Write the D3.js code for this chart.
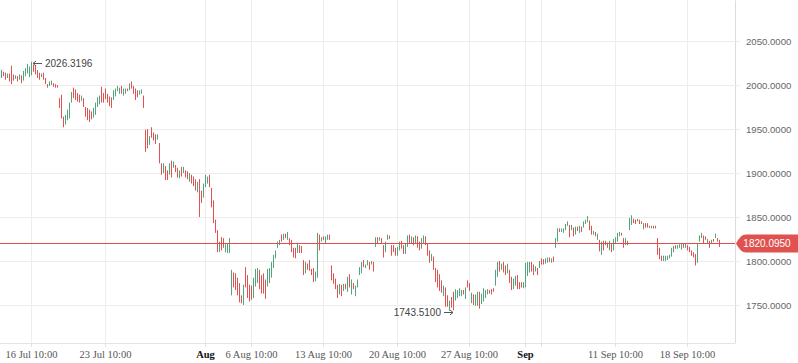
<!DOCTYPE html>
<html>
<head>
<meta charset="utf-8">
<script src="https://cdn.jsdelivr.net/npm/d3@7"></script>
<style>
  body { margin: 0; background: #fff; }
  svg { display: block; }
</style>
</head>
<body>
<script>
// OHLC bars, one per period
const opens = [
  2009,2014,2013,2009,2012,2021,2011,2008,2009,2007,
  2010,2006,2011,2014,2010,2012,2022,2021,2016,2013,
  2010,2013,2007,2000,2000,2001,2001,2000,1999,1984,
  1988,1963,1956,1961,1963,1981,1996,1994,1990,1988,
  1983,1984,1974,1973,1971,1969,1964,1967,1976,1979,
  1997,1990,1995,1989,1986,1985,1984,1988,1994,1991,
  1998,1989,1991,1995,1995,2003,1998,1995,1993,1990,
  1991,1987,1948,1949,1933,1951,1945,1943,1939,1933,
  1910,1901,1907,1902,1899,1913,1907,1908,1905,1895,
  1906,1901,1902,1901,1891,1897,1895,1892,1879,1892,
  1879,1873,1885,1889,1897,1882,1868,1846,1834,1811,
  1826,1825,1811,1810,1810,1762,1786,1785,1780,1774,
  1760,1751,1792,1783,1772,1771,1759,1772,1776,1789,
  1783,1785,1778,1772,1776,1782,1793,1804,1816,1819,
  1829,1825,1830,1825,1825,1823,1814,1814,1810,1817,
  1816,1800,1787,1796,1800,1790,1791,1778,1782,1829,
  1823,1827,1821,1825,1829,1794,1785,1779,1772,1763,
  1772,1767,1773,1766,1784,1763,1774,1761,1771,1785,
  1787,1800,1793,1796,1798,1797,1798,1817,1826,1824,
  1825,1817,1811,1825,1828,1817,1817,1814,1807,1813,
  1822,1817,1809,1817,1829,1821,1826,1821,1827,1821,
  1815,1821,1827,1819,1811,1801,1804,1791,1789,1784,
  1777,1761,1769,1760,1744.5,1758,1764,1756,1759,1761,
  1761,1766,1758,1777,1774,1753,1761,1750,1750,1764,
  1752,1755,1759,1763,1766,1767,1768,1773,1783,1799,
  1791,1798,1794,1787,1789,1781,1769,1773,1783,1775,
  1775,1770,1771,1784,1788,1798,1795,1789,1791,1793,
  1802,1801,1798,1799,1803,1799,1804,1816,1823,1836,
  1834,1833,1836,1841,1840,1836,1837,1831,1838,1833,
  1838,1839,1843,1845,1845,1839,1831,1832,1825,1823,
  1808,1822,1819,1820,1813,1819,1813,1821,1823,1829,
  1831,1825,1819,1822,1836,1842,1847,1846,1846,1846,
  1844,1837,1842,1842,1839,1838,1839,1839,1825,1814,
  1805,1801,1801,1802,1804,1806,1811,1817,1815,1816,
  1814,1819,1816,1817,1815,1811,1809,1807,1799,1823,
  1827,1828,1827,1821,1822,1821,1824,1827,1825,1823
];
const highs = [
  2017,2015,2014,2013,2013,2022,2012,2011,2010,2012,
  2011,2016,2019,2024,2021,2026.3196,2023,2022,2017,2014,
  2013,2014,2008,2001,2004,2005,2002,2001,2000,1985,
  1989,1964,1966,1972,1980,1992,1997,1995,1991,1989,
  1988,1985,1975,1974,1972,1970,1974,1980,1986,1988,
  1998,1991,1996,1990,1987,1986,1994,1996,1999,1997,
  1999,1996,1996,1996,2002,2004,1999,1996,1994,1994,
  1995,1988,1949,1950,1942,1952,1946,1944,1944,1934,
  1911,1911,1908,1903,1911,1914,1913,1909,1906,1903,
  1907,1907,1903,1902,1900,1898,1896,1893,1890,1893,
  1880,1888,1898,1896,1898,1883,1869,1847,1835,1822,
  1827,1826,1819,1820,1826,1790,1787,1786,1781,1775,
  1761,1773,1793,1784,1773,1772,1781,1791,1792,1790,
  1784,1786,1779,1791,1792,1799,1807,1812,1822,1824,
  1830,1831,1831,1833,1826,1824,1815,1815,1820,1818,
  1817,1801,1799,1797,1801,1791,1792,1788,1832,1830,
  1827,1828,1828,1830,1830,1795,1786,1780,1773,1774,
  1773,1774,1774,1782,1785,1779,1775,1772,1779,1793,
  1799,1801,1796,1801,1799,1800,1799,1827,1827,1827,
  1826,1818,1822,1830,1829,1818,1818,1815,1816,1822,
  1823,1818,1820,1829,1830,1828,1827,1829,1828,1822,
  1826,1829,1828,1820,1812,1808,1805,1792,1790,1785,
  1778,1772,1770,1761,1755,1759,1765,1768,1767,1769,
  1767,1767,1770,1778,1775,1764,1762,1762,1765,1765,
  1763,1769,1767,1768,1767,1768,1769,1790,1799,1800,
  1797,1799,1795,1797,1790,1782,1780,1783,1784,1776,
  1776,1776,1798,1799,1799,1799,1796,1794,1792,1800,
  1803,1802,1803,1804,1804,1803,1805,1826,1837,1837,
  1837,1837,1842,1845,1841,1841,1838,1839,1839,1840,
  1839,1845,1847,1851,1846,1840,1834,1833,1831,1824,
  1822,1823,1823,1821,1823,1820,1825,1827,1832,1833,
  1832,1826,1826,1823,1849,1852,1848,1847,1848,1847,
  1845,1843,1843,1843,1840,1840,1840,1840,1826,1815,
  1806,1806,1806,1806,1807,1815,1817,1818,1818,1819,
  1820,1820,1820,1818,1816,1812,1810,1808,1820,1829,
  1832,1829,1828,1825,1823,1824,1825,1831,1826,1824
];
const lows = [
  2008,2010,2006,2008,2004,2001,2005,2007,2004,2006,
  2002,2005,2010,2013,2009,2011,2015,2012,2008,2006,
  2009,2006,2001,1997,1999,2000,1998,1997,1997,1974,
  1962,1952,1955,1960,1962,1980,1985,1983,1981,1980,
  1982,1975,1964,1960,1958,1961,1963,1966,1975,1978,
  1980,1980,1984,1980,1976,1974,1983,1987,1993,1990,
  1990,1988,1990,1993,1994,1996,1990,1983,1986,1989,
  1990,1974,1924,1928,1932,1940,1937,1933,1938,1911,
  1898,1900,1892,1892,1898,1895,1906,1901,1895,1894,
  1896,1900,1895,1893,1890,1888,1885,1880,1878,1850,
  1866,1872,1884,1888,1884,1861,1843,1832,1810,1810,
  1812,1815,1810,1809,1809,1761,1770,1767,1761,1753,
  1752,1750,1770,1758,1754,1756,1758,1771,1775,1768,
  1763,1763,1757,1771,1775,1781,1792,1803,1815,1818,
  1822,1824,1826,1824,1818,1810,1804,1803,1809,1809,
  1809,1784,1786,1790,1789,1784,1776,1777,1781,1812,
  1822,1824,1820,1824,1824,1778,1774,1768,1758,1762,
  1760,1766,1768,1765,1770,1762,1768,1760,1770,1784,
  1786,1793,1792,1795,1790,1796,1788,1816,1820,1823,
  1820,1804,1810,1824,1825,1806,1810,1806,1806,1812,
  1814,1808,1808,1816,1820,1820,1818,1820,1815,1812,
  1814,1820,1818,1806,1798,1800,1790,1776,1770,1766,
  1764,1760,1748,1748,1743.51,1747,1744,1755,1758,1760,
  1760,1762,1757,1770,1766,1752,1750,1749,1749,1746,
  1751,1754,1758,1762,1763,1762,1765,1772,1782,1788,
  1790,1787,1784,1786,1775,1767,1768,1772,1768,1768,
  1770,1769,1770,1783,1787,1788,1784,1788,1784,1792,
  1796,1796,1797,1798,1799,1798,1799,1815,1822,1833,
  1833,1832,1835,1840,1827,1835,1828,1830,1834,1832,
  1833,1838,1842,1844,1835,1830,1830,1828,1824,1811,
  1807,1812,1818,1815,1812,1810,1812,1820,1822,1828,
  1829,1815,1818,1818,1835,1841,1843,1842,1845,1842,
  1842,1836,1838,1838,1838,1837,1837,1837,1807,1802,
  1800,1800,1800,1801,1803,1805,1810,1814,1814,1815,
  1813,1815,1815,1812,1810,1806,1804,1795,1798,1822,
  1826,1820,1824,1820,1815,1820,1822,1826,1822,1816
];
const closes = [
  2016,2011,2007,2012,2005,2002,2006,2010,2005,2011,
  2003,2015,2018,2023,2020,2025,2016,2013,2009,2007,
  2012,2007,2002,1998,2003,2004,1999,1998,1998,1975,
  1963,1953,1965,1971,1979,1991,1986,1984,1982,1981,
  1987,1976,1965,1961,1959,1962,1973,1979,1985,1987,
  1981,1981,1985,1981,1977,1975,1993,1995,1998,1996,
  1991,1995,1995,1994,2001,1997,1991,1984,1987,1993,
  1994,1975,1925,1929,1941,1941,1938,1934,1943,1912,
  1899,1910,1893,1893,1910,1896,1912,1902,1896,1902,
  1897,1906,1896,1894,1899,1889,1886,1881,1889,1851,
  1867,1887,1897,1895,1885,1862,1844,1833,1811,1821,
  1813,1816,1818,1819,1825,1789,1771,1768,1762,1754,
  1753,1772,1771,1759,1755,1757,1780,1790,1791,1769,
  1764,1764,1758,1790,1791,1798,1806,1811,1821,1823,
  1823,1830,1827,1832,1819,1811,1805,1804,1819,1810,
  1810,1785,1798,1791,1790,1785,1777,1787,1831,1813,
  1826,1825,1827,1829,1825,1779,1775,1769,1759,1773,
  1761,1773,1769,1781,1771,1778,1769,1771,1778,1792,
  1798,1794,1795,1800,1791,1799,1789,1826,1821,1826,
  1821,1805,1821,1829,1826,1807,1811,1807,1815,1821,
  1815,1809,1819,1828,1821,1827,1819,1828,1816,1813,
  1825,1828,1819,1807,1799,1807,1791,1777,1771,1767,
  1765,1771,1749,1749,1754,1748,1745,1767,1766,1768,
  1766,1763,1769,1771,1767,1763,1751,1761,1764,1747,
  1762,1768,1766,1767,1764,1763,1766,1789,1798,1789,
  1796,1788,1785,1796,1776,1768,1779,1782,1769,1769,
  1771,1775,1797,1798,1798,1789,1785,1793,1785,1799,
  1797,1797,1802,1803,1800,1802,1800,1825,1836,1834,
  1836,1836,1841,1844,1828,1840,1829,1838,1835,1839,
  1834,1844,1846,1850,1836,1831,1833,1829,1830,1812,
  1821,1813,1822,1816,1822,1811,1824,1826,1831,1832,
  1830,1816,1825,1819,1848,1851,1844,1843,1847,1843,
  1843,1842,1839,1839,1838.5,1839,1838,1838,1808,1803,
  1801,1805,1805,1805,1806,1814,1816,1815,1817,1818,
  1819,1816,1819,1813,1811,1807,1805,1796,1819,1828,
  1831,1821,1825,1824,1816,1823,1823,1830,1823,1820.095
];

// axis ticks
const priceTicks = [1750, 1800, 1850, 1900, 1950, 2000, 2050];
const timeTickBars = [15, 52, 102, 125, 161, 198, 234, 262, 270, 307, 343];
const timeTickLabels = ["16 Jul 10:00", "23 Jul 10:00", "Aug", "6 Aug 10:00", "13 Aug 10:00",
  "20 Aug 10:00", "27 Aug 10:00", "Sep", "", "11 Sep 10:00", "18 Sep 10:00"];

const w = 798;
const h = 363;
const plotRight = 735;
const plotBottom = 343;
const upColor = "#52a57a";
const downColor = "#e2514f";

const svg = d3.select("body")
            .append("svg")
            .attr("width", w)
            .attr("height", h);

const xScale = d3.scaleLinear()
                .domain([0, opens.length - 1])
                .range([1, 719]);

const yScale = d3.scaleLinear()
                .domain([1706.8, 2096.6])
                .range([plotBottom, 0]);

const crisp = (v) => Math.round(v) + 0.5;

//Horizontal grid
svg.append("g")
    .selectAll("line")
    .data(priceTicks)
    .join("line")
    .attr("x1", 0)
    .attr("x2", plotRight)
    .attr("y1", (d) => crisp(yScale(d)))
    .attr("y2", (d) => crisp(yScale(d)))
    .attr("stroke", "#ededed");

//Vertical grid
svg.append("g")
    .selectAll("line")
    .data(timeTickBars)
    .join("line")
    .attr("x1", (d) => crisp(xScale(d)))
    .attr("x2", (d) => crisp(xScale(d)))
    .attr("y1", 0)
    .attr("y2", plotBottom)
    .attr("stroke", "#ededed");

//Bottom axis
const xAxis = d3.axisBottom(xScale)
                .tickValues(timeTickBars)
                .tickFormat((d, i) => timeTickLabels[i])
                .tickSize(4)
                .tickSizeOuter(0)
                .tickPadding(4);

const gx = svg.append("g")
    .attr("transform", "translate(0," + plotBottom + ")")
    .call(xAxis);
gx.select(".domain").remove();
gx.selectAll(".tick line").attr("stroke", "#e3e3e3");
gx.selectAll(".tick text")
    .attr("font-family", "'Liberation Serif', serif")
    .attr("font-size", "10.5px")
    .attr("fill", (d, i) => timeTickLabels[i].indexOf(" ") < 0 ? "#111" : "#555")
    .attr("font-weight", (d, i) => timeTickLabels[i].indexOf(" ") < 0 ? "bold" : "normal");

svg.append("line")
    .attr("x1", 0)
    .attr("x2", plotRight)
    .attr("y1", plotBottom + 0.5)
    .attr("y2", plotBottom + 0.5)
    .attr("stroke", "#e3e3e3");

//Right axis
const yAxis = d3.axisRight(yScale)
                .tickValues(priceTicks)
                .tickFormat(d3.format(".4f"))
                .tickSize(5)
                .tickSizeOuter(0)
                .tickPadding(6);

const gy = svg.append("g")
    .attr("transform", "translate(" + plotRight + ",0)")
    .call(yAxis);
gy.select(".domain").attr("stroke", "#dcdcdc");
gy.selectAll(".tick line").attr("stroke", "#ededed");
gy.selectAll(".tick text")
    .attr("font-family", "'Liberation Sans', Arial, sans-serif")
    .attr("font-size", "9.6px")
    .attr("fill", "#666");

//Bars
const bars = svg.append("g")
    .selectAll("g")
    .data(opens.map((o, i) => i))
    .join("g")
    .attr("fill", (i) => closes[i] >= opens[i] ? upColor : downColor);

bars.append("rect")
    .attr("x", (i) => Math.round(xScale(i)))
    .attr("y", (i) => yScale(highs[i]))
    .attr("width", 1)
    .attr("height", (i) => Math.max(1, yScale(lows[i]) - yScale(highs[i])));

bars.append("rect")
    .attr("x", (i) => Math.round(xScale(i)))
    .attr("y", (i) => yScale(Math.max(opens[i], closes[i])))
    .attr("width", 1)
    .attr("height", (i) => Math.max(1, Math.abs(yScale(opens[i]) - yScale(closes[i]))));

//Last price line and tag
const last = closes[closes.length - 1];
const ly = crisp(yScale(last));

svg.append("line")
    .attr("x1", 0)
    .attr("x2", plotRight)
    .attr("y1", ly)
    .attr("y2", ly)
    .attr("stroke", "#dc4f4c");

svg.append("path")
    .attr("d", "M" + 736 + "," + ly +
               " Q738," + (ly - 4) + " 741," + (ly - 7) +
               " Q743," + (ly - 9) + " 746," + (ly - 9) +
               " H798 V" + (ly + 9) + " H746" +
               " Q743," + (ly + 9) + " 741," + (ly + 7) +
               " Q738," + (ly + 4) + " 736," + ly + " Z")
    .attr("fill", "#e0524f");

svg.append("text")
    .attr("x", 767)
    .attr("y", ly)
    .attr("dy", "0.35em")
    .attr("text-anchor", "middle")
    .attr("font-family", "'Liberation Sans', Arial, sans-serif")
    .attr("font-size", "10px")
    .attr("fill", "white")
    .text(d3.format(".4f")(last));

//High / low labels with small arrows
const hiIdx = d3.maxIndex(highs);
const loIdx = d3.minIndex(lows);

function arrow(x1, x2, y) {
    // arrow head at x1
    const dir = x2 > x1 ? 1 : -1;
    const g = svg.append("g").attr("stroke", "#555").attr("fill", "none");
    g.append("line")
        .attr("x1", x1).attr("x2", x2)
        .attr("y1", y).attr("y2", y);
    g.append("path")
        .attr("d", "M" + (x1 + dir * 3) + "," + (y - 2.5) + " L" + x1 + "," + y + " L" + (x1 + dir * 3) + "," + (y + 2.5));
}

const hx = xScale(hiIdx) + 2;
const hy = Math.round(yScale(highs[hiIdx])) + 1.5;
arrow(hx, hx + 9, hy);
svg.append("text")
    .attr("x", hx + 12)
    .attr("y", hy)
    .attr("dy", "0.35em")
    .attr("font-family", "'Liberation Sans', Arial, sans-serif")
    .attr("font-size", "10px")
    .attr("fill", "#444")
    .text(d3.format(".4f")(highs[hiIdx]));

const lx = xScale(loIdx) + 4;
const lyy = Math.round(yScale(lows[loIdx])) + 1.5;
arrow(lx, lx - 9, lyy);
svg.append("text")
    .attr("x", lx - 12)
    .attr("y", lyy)
    .attr("dy", "0.35em")
    .attr("text-anchor", "end")
    .attr("font-family", "'Liberation Sans', Arial, sans-serif")
    .attr("font-size", "10px")
    .attr("fill", "#444")
    .text(d3.format(".4f")(lows[loIdx]));
</script>
</body>
</html>
